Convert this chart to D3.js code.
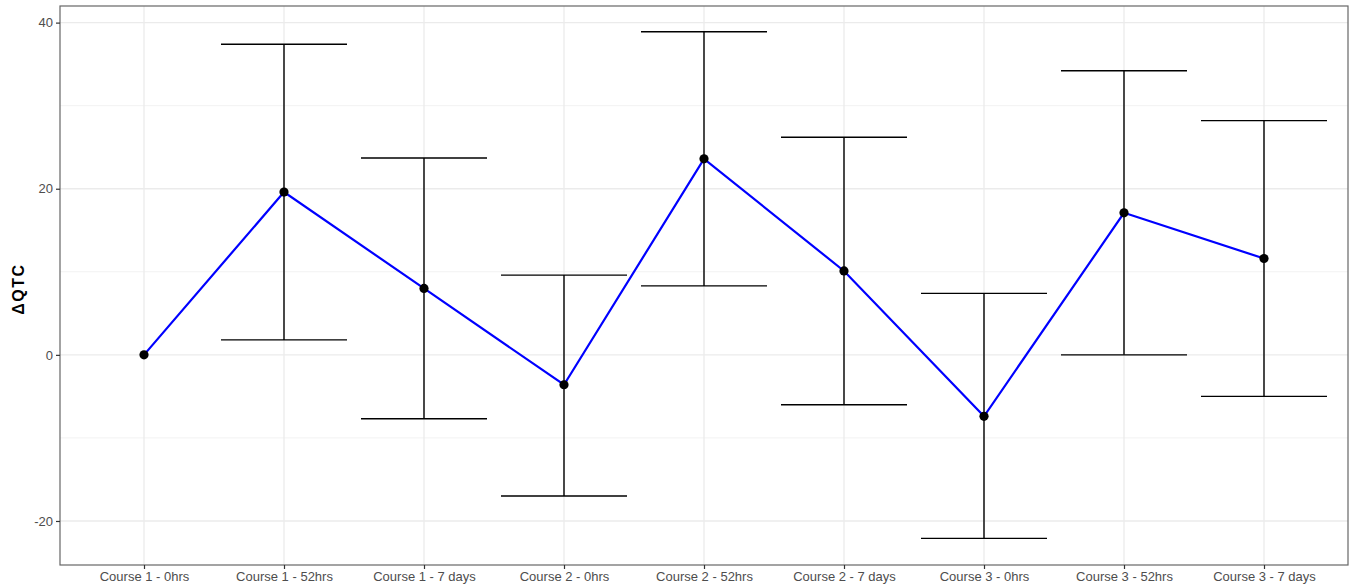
<!DOCTYPE html>
<html>
<head>
<meta charset="utf-8">
<script src="https://cdn.jsdelivr.net/npm/d3@7"></script>
<style>
  html, body { margin: 0; padding: 0; background: #fff; }
  svg { display: block; font-family: "Liberation Sans", Arial, sans-serif; }
</style>
</head>
<body>
<svg id="chart" width="1355" height="588"></svg>
<script>
// Timepoints along the x axis
const timepoints = [
  "Course 1 - 0hrs", "Course 1 - 52hrs", "Course 1 - 7 days",
  "Course 2 - 0hrs", "Course 2 - 52hrs", "Course 2 - 7 days",
  "Course 3 - 0hrs", "Course 3 - 52hrs", "Course 3 - 7 days"
];
// Mean change in QTc and its interval bounds (baseline has no interval)
const meanDelta = [0, 19.6, 8.0, -3.6, 23.6, 10.1, -7.4, 17.1, 11.6];
const lowerCI   = [null, 1.8, -7.7, -17.0, 8.3, -6.0, -22.1, 0.0, -5.0];
const upperCI   = [null, 37.4, 23.7, 9.6, 38.9, 26.2, 7.4, 34.2, 28.2];
const yTicks = [-20, 0, 20, 40];
const yMinorTicks = [-10, 10, 30];

const svg = d3.select("#chart");
const panel = { left: 60, right: 1348, top: 6, bottom: 565 };

const x = d3.scalePoint()
  .domain(timepoints)
  .range([panel.left, panel.right])
  .padding(0.6);
const step = x.step();

const y = d3.scaleLinear()
  .domain([-25.3, 42.0])
  .range([panel.bottom, panel.top]);

const rows = timepoints.map((t, i) => ({ t, m: meanDelta[i], lo: lowerCI[i], hi: upperCI[i] }));

// Panel background
svg.append("rect")
  .attr("x", panel.left).attr("y", panel.top)
  .attr("width", panel.right - panel.left).attr("height", panel.bottom - panel.top)
  .attr("fill", "#fff");

// Grid lines
const grid = svg.append("g");
grid.selectAll("line.minor").data(yMinorTicks).join("line")
  .attr("x1", panel.left).attr("x2", panel.right)
  .attr("y1", d => y(d)).attr("y2", d => y(d))
  .attr("stroke", "#F2F2F2").attr("stroke-width", 1);
grid.selectAll("line.major").data(yTicks).join("line")
  .attr("x1", panel.left).attr("x2", panel.right)
  .attr("y1", d => y(d)).attr("y2", d => y(d))
  .attr("stroke", "#EBEBEB").attr("stroke-width", 1.3);
grid.selectAll("line.vert").data(timepoints).join("line")
  .attr("x1", d => x(d)).attr("x2", d => x(d))
  .attr("y1", panel.top).attr("y2", panel.bottom)
  .attr("stroke", "#EBEBEB").attr("stroke-width", 1.3);

// Error bars
const capHalf = step * 0.45;
const eb = svg.append("g").attr("stroke", "#000").attr("stroke-width", 1.4).attr("fill", "none");
rows.filter(r => r.lo !== null && r.hi !== null).forEach(r => {
  const cx = x(r.t);
  eb.append("line").attr("x1", cx).attr("x2", cx).attr("y1", y(r.hi)).attr("y2", y(r.lo));
  eb.append("line").attr("x1", cx - capHalf).attr("x2", cx + capHalf).attr("y1", y(r.hi)).attr("y2", y(r.hi));
  eb.append("line").attr("x1", cx - capHalf).attr("x2", cx + capHalf).attr("y1", y(r.lo)).attr("y2", y(r.lo));
});

// Mean line
svg.append("path")
  .datum(rows)
  .attr("d", d3.line().x(d => x(d.t)).y(d => y(d.m)))
  .attr("fill", "none").attr("stroke", "#0000FF").attr("stroke-width", 2.2);

// Points
svg.append("g").selectAll("circle").data(rows).join("circle")
  .attr("cx", d => x(d.t)).attr("cy", d => y(d.m)).attr("r", 4.6)
  .attr("fill", "#000");

// Panel border
svg.append("rect")
  .attr("x", panel.left).attr("y", panel.top)
  .attr("width", panel.right - panel.left).attr("height", panel.bottom - panel.top)
  .attr("fill", "none").attr("stroke", "#666").attr("stroke-width", 1.2);

// Axes
const yAxis = svg.append("g")
  .attr("transform", `translate(${panel.left},0)`)
  .call(d3.axisLeft(y).tickValues(yTicks).tickSize(4).tickPadding(3).tickFormat(d => String(d)));
yAxis.select(".domain").remove();
yAxis.selectAll(".tick line").attr("stroke", "#333").attr("stroke-width", 1.2);
yAxis.selectAll(".tick text").attr("fill", "#4D4D4D").style("font-size", "13px");

const xAxis = svg.append("g")
  .attr("transform", `translate(0,${panel.bottom})`)
  .call(d3.axisBottom(x).tickSize(4).tickPadding(3));
xAxis.select(".domain").remove();
xAxis.selectAll(".tick line").attr("stroke", "#333").attr("stroke-width", 1.2);
xAxis.selectAll(".tick text").attr("fill", "#4D4D4D").style("font-size", "13px");

// Y axis title
svg.append("text")
  .attr("transform", `translate(24,289) rotate(-90)`)
  .attr("text-anchor", "middle")
  .style("font-size", "16px").style("font-weight", "bold")
  .style("letter-spacing", "1.5px")
  .attr("fill", "#000")
  .text("ΔQTC");
</script>
</body>
</html>
